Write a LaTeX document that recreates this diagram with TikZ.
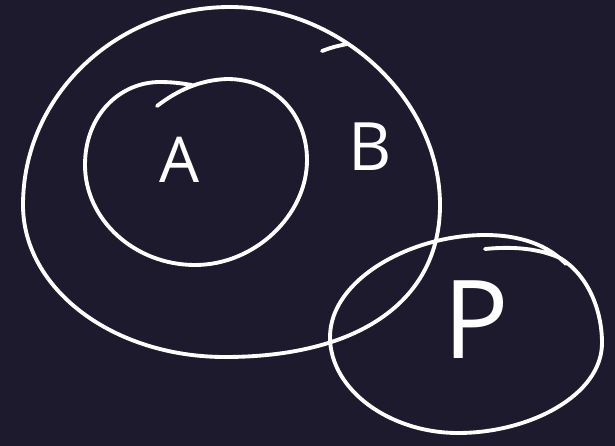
\documentclass[tikz,border=0pt]{standalone}
\usepackage{fontspec}
\setmainfont{Open Sans}
\usepackage{tikz}
\usetikzlibrary{positioning}
\definecolor{boardbg}{RGB}{30,26,46}

\begin{document}
\begin{tikzpicture}[
    x=0.02cm, y=-0.02cm,
    chalk/.style={draw=white, line width=2.2pt, line cap=round, line join=round},
    setlabel/.style={text=white, inner sep=0pt}
]

% board
\fill[boardbg] (0,0) rectangle (615,446);
\useasboundingbox (0,0) rectangle (615,446);

% set B
\draw[chalk] (230,7) .. controls (341,7) and (440,100) .. (440,205)
    .. controls (440,300) and (360,357) .. (225,357)
    .. controls (113,357) and (23,289) .. (23,205)
    .. controls (23,96) and (116,7) .. (230,7) -- cycle;
\draw[chalk] (322,51) .. controls (333,47) .. (347,44);

% set A
\draw[chalk] (157,106) .. controls (178,90) and (200,80) .. (227,79)
    .. controls (275,79) and (307,115) .. (307,160)
    .. controls (307,215) and (255,265) .. (195,265)
    .. controls (135,265) and (85,220) .. (85,165)
    .. controls (85,115) and (120,82) .. (160,82)
    .. controls (175,82) and (185,84) .. (192,85);

% set P
\draw[chalk] (485,249) .. controls (515,246) and (540,249) .. (560,258)
    .. controls (588,275) and (602,310) .. (602,343)
    .. controls (602,395) and (530,433) .. (458,433)
    .. controls (390,433) and (330,390) .. (330,337)
    .. controls (330,280) and (410,235) .. (485,235)
    .. controls (520,235) and (548,245) .. (566,264);

% labels
\node (labelA) [setlabel, font=\fontsize{36}{40}\selectfont] at (180,160) {A};
\node (labelB) [setlabel, font=\fontsize{38}{42}\selectfont] at (370,147) {B};
\node (labelP) [setlabel, font=\fontsize{62}{66}\selectfont] at (476,320) {P};

\end{tikzpicture}
\end{document}
